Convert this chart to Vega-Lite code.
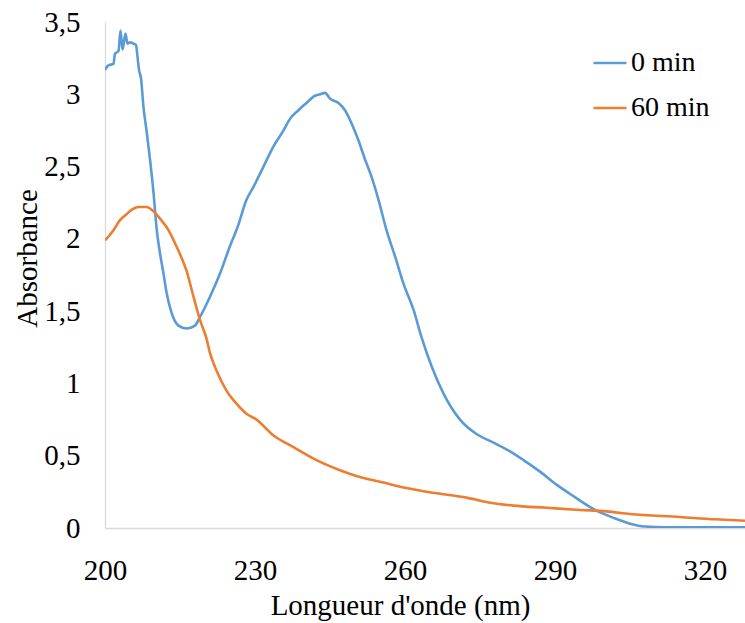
{
  "$schema": "https://vega.github.io/schema/vega-lite/v6.json",
  "width": 640,
  "height": 506,
  "autosize": {"type": "none"},
  "padding": {"left": 105, "top": 22, "right": 0, "bottom": 95},
  "background": "white",
  "config": {
    "view": {"stroke": null},
    "font": "Liberation Serif",
    "axis": {"grid": false, "ticks": false, "domainColor": "#d9d9d9", "domainWidth": 1.3, "labelFont": "Liberation Serif", "titleFont": "Liberation Serif", "labelFontSize": 29, "titleFontSize": 29, "labelColor": "#000000", "titleColor": "#000000", "titleFontWeight": "normal"}
  },
  "data": {
    "values": [
      {"x": 200, "y": 3.17, "s": "0 min"},
      {"x": 200.7, "y": 3.20, "s": "0 min"},
      {"x": 201.7, "y": 3.21, "s": "0 min"},
      {"x": 202, "y": 3.28, "s": "0 min"},
      {"x": 202.7, "y": 3.30, "s": "0 min"},
      {"x": 203.1, "y": 3.44, "s": "0 min"},
      {"x": 203.5, "y": 3.31, "s": "0 min"},
      {"x": 204.1, "y": 3.42, "s": "0 min"},
      {"x": 204.5, "y": 3.35, "s": "0 min"},
      {"x": 205, "y": 3.36, "s": "0 min"},
      {"x": 205.7, "y": 3.35, "s": "0 min"},
      {"x": 206.2, "y": 3.34, "s": "0 min"},
      {"x": 206.5, "y": 3.26, "s": "0 min"},
      {"x": 206.8, "y": 3.17, "s": "0 min"},
      {"x": 207.2, "y": 3.11, "s": "0 min"},
      {"x": 207.7, "y": 2.91, "s": "0 min"},
      {"x": 208.3, "y": 2.75, "s": "0 min"},
      {"x": 209, "y": 2.55, "s": "0 min"},
      {"x": 209.7, "y": 2.32, "s": "0 min"},
      {"x": 210.3, "y": 2.08, "s": "0 min"},
      {"x": 211, "y": 1.90, "s": "0 min"},
      {"x": 211.7, "y": 1.76, "s": "0 min"},
      {"x": 212.3, "y": 1.63, "s": "0 min"},
      {"x": 213.3, "y": 1.49, "s": "0 min"},
      {"x": 214.7, "y": 1.40, "s": "0 min"},
      {"x": 216.3, "y": 1.38, "s": "0 min"},
      {"x": 218, "y": 1.40, "s": "0 min"},
      {"x": 219, "y": 1.46, "s": "0 min"},
      {"x": 221, "y": 1.60, "s": "0 min"},
      {"x": 223, "y": 1.76, "s": "0 min"},
      {"x": 225, "y": 1.95, "s": "0 min"},
      {"x": 226.5, "y": 2.08, "s": "0 min"},
      {"x": 228.3, "y": 2.27, "s": "0 min"},
      {"x": 229.7, "y": 2.36, "s": "0 min"},
      {"x": 231.7, "y": 2.50, "s": "0 min"},
      {"x": 233.7, "y": 2.64, "s": "0 min"},
      {"x": 235.7, "y": 2.75, "s": "0 min"},
      {"x": 237, "y": 2.83, "s": "0 min"},
      {"x": 238.7, "y": 2.89, "s": "0 min"},
      {"x": 240.3, "y": 2.94, "s": "0 min"},
      {"x": 242, "y": 2.99, "s": "0 min"},
      {"x": 243, "y": 3.00, "s": "0 min"},
      {"x": 244, "y": 3.01, "s": "0 min"},
      {"x": 245, "y": 2.97, "s": "0 min"},
      {"x": 246.7, "y": 2.94, "s": "0 min"},
      {"x": 248, "y": 2.89, "s": "0 min"},
      {"x": 249.3, "y": 2.80, "s": "0 min"},
      {"x": 250.7, "y": 2.68, "s": "0 min"},
      {"x": 252, "y": 2.55, "s": "0 min"},
      {"x": 253.3, "y": 2.43, "s": "0 min"},
      {"x": 254.7, "y": 2.27, "s": "0 min"},
      {"x": 256.3, "y": 2.06, "s": "0 min"},
      {"x": 258, "y": 1.88, "s": "0 min"},
      {"x": 259.7, "y": 1.69, "s": "0 min"},
      {"x": 261.7, "y": 1.51, "s": "0 min"},
      {"x": 263.3, "y": 1.32, "s": "0 min"},
      {"x": 265.3, "y": 1.12, "s": "0 min"},
      {"x": 267.7, "y": 0.93, "s": "0 min"},
      {"x": 271, "y": 0.75, "s": "0 min"},
      {"x": 274.3, "y": 0.65, "s": "0 min"},
      {"x": 277.7, "y": 0.59, "s": "0 min"},
      {"x": 281, "y": 0.53, "s": "0 min"},
      {"x": 283.7, "y": 0.47, "s": "0 min"},
      {"x": 287, "y": 0.39, "s": "0 min"},
      {"x": 290.3, "y": 0.30, "s": "0 min"},
      {"x": 293.7, "y": 0.22, "s": "0 min"},
      {"x": 298.3, "y": 0.12, "s": "0 min"},
      {"x": 301.7, "y": 0.07, "s": "0 min"},
      {"x": 305, "y": 0.03, "s": "0 min"},
      {"x": 308, "y": 0.01, "s": "0 min"},
      {"x": 312, "y": 0.005, "s": "0 min"},
      {"x": 320, "y": 0.005, "s": "0 min"},
      {"x": 328, "y": 0.005, "s": "0 min"},
      {"x": 200, "y": 1.99, "s": "60 min"},
      {"x": 201.7, "y": 2.06, "s": "60 min"},
      {"x": 203, "y": 2.13, "s": "60 min"},
      {"x": 204.3, "y": 2.17, "s": "60 min"},
      {"x": 205.3, "y": 2.20, "s": "60 min"},
      {"x": 206.7, "y": 2.22, "s": "60 min"},
      {"x": 208.3, "y": 2.22, "s": "60 min"},
      {"x": 209.7, "y": 2.19, "s": "60 min"},
      {"x": 211, "y": 2.14, "s": "60 min"},
      {"x": 212.7, "y": 2.06, "s": "60 min"},
      {"x": 214, "y": 1.97, "s": "60 min"},
      {"x": 215.3, "y": 1.87, "s": "60 min"},
      {"x": 216.3, "y": 1.78, "s": "60 min"},
      {"x": 217.7, "y": 1.60, "s": "60 min"},
      {"x": 219, "y": 1.44, "s": "60 min"},
      {"x": 220.3, "y": 1.31, "s": "60 min"},
      {"x": 221, "y": 1.21, "s": "60 min"},
      {"x": 222.3, "y": 1.09, "s": "60 min"},
      {"x": 224.3, "y": 0.95, "s": "60 min"},
      {"x": 226.3, "y": 0.86, "s": "60 min"},
      {"x": 228.3, "y": 0.79, "s": "60 min"},
      {"x": 230.3, "y": 0.75, "s": "60 min"},
      {"x": 233.7, "y": 0.64, "s": "60 min"},
      {"x": 237.7, "y": 0.56, "s": "60 min"},
      {"x": 242.3, "y": 0.47, "s": "60 min"},
      {"x": 247, "y": 0.40, "s": "60 min"},
      {"x": 252.3, "y": 0.34, "s": "60 min"},
      {"x": 255, "y": 0.32, "s": "60 min"},
      {"x": 259.7, "y": 0.28, "s": "60 min"},
      {"x": 266.3, "y": 0.24, "s": "60 min"},
      {"x": 272.3, "y": 0.21, "s": "60 min"},
      {"x": 277, "y": 0.175, "s": "60 min"},
      {"x": 281.7, "y": 0.155, "s": "60 min"},
      {"x": 288.3, "y": 0.14, "s": "60 min"},
      {"x": 295, "y": 0.125, "s": "60 min"},
      {"x": 300.3, "y": 0.115, "s": "60 min"},
      {"x": 305, "y": 0.097, "s": "60 min"},
      {"x": 315, "y": 0.076, "s": "60 min"},
      {"x": 322, "y": 0.06, "s": "60 min"},
      {"x": 328, "y": 0.05, "s": "60 min"}
    ]
  },
  "mark": {"type": "line", "strokeWidth": 2.6, "clip": true, "interpolate": "monotone"},
  "encoding": {
    "x": {
      "field": "x", "type": "quantitative",
      "scale": {"domain": [200, 328], "nice": false, "zero": false},
      "axis": {"values": [200, 230, 260, 290, 320], "labelPadding": 28, "title": "Longueur d'onde (nm)", "titleX": 295, "titleY": 77, "titleBaseline": "middle", "titleAnchor": null, "titleAlign": "center", "labelFlush": false}
    },
    "y": {
      "field": "y", "type": "quantitative",
      "scale": {"domain": [0, 3.5], "nice": false},
      "axis": {"values": [0, 0.5, 1, 1.5, 2, 2.5, 3, 3.5], "labelExpr": "replace(toString(datum.value), '.', ',')", "labelPadding": 25, "title": "Absorbance", "titleX": -78, "titleY": 236, "titleAngle": -90, "titleBaseline": "middle", "titleAlign": "center", "labelFlush": false}
    },
    "color": {
      "field": "s", "type": "nominal",
      "scale": {"domain": ["0 min", "60 min"], "range": ["#5B9BD5", "#ED7D31"]},
      "legend": {"title": null, "orient": "none", "legendX": 487, "legendY": 23, "symbolType": "stroke", "symbolSize": 1089, "symbolStrokeWidth": 2.6, "labelFontSize": 28, "labelFont": "Liberation Serif", "labelColor": "#000000", "labelOffset": 3, "rowPadding": 13}
    }
  }
}
